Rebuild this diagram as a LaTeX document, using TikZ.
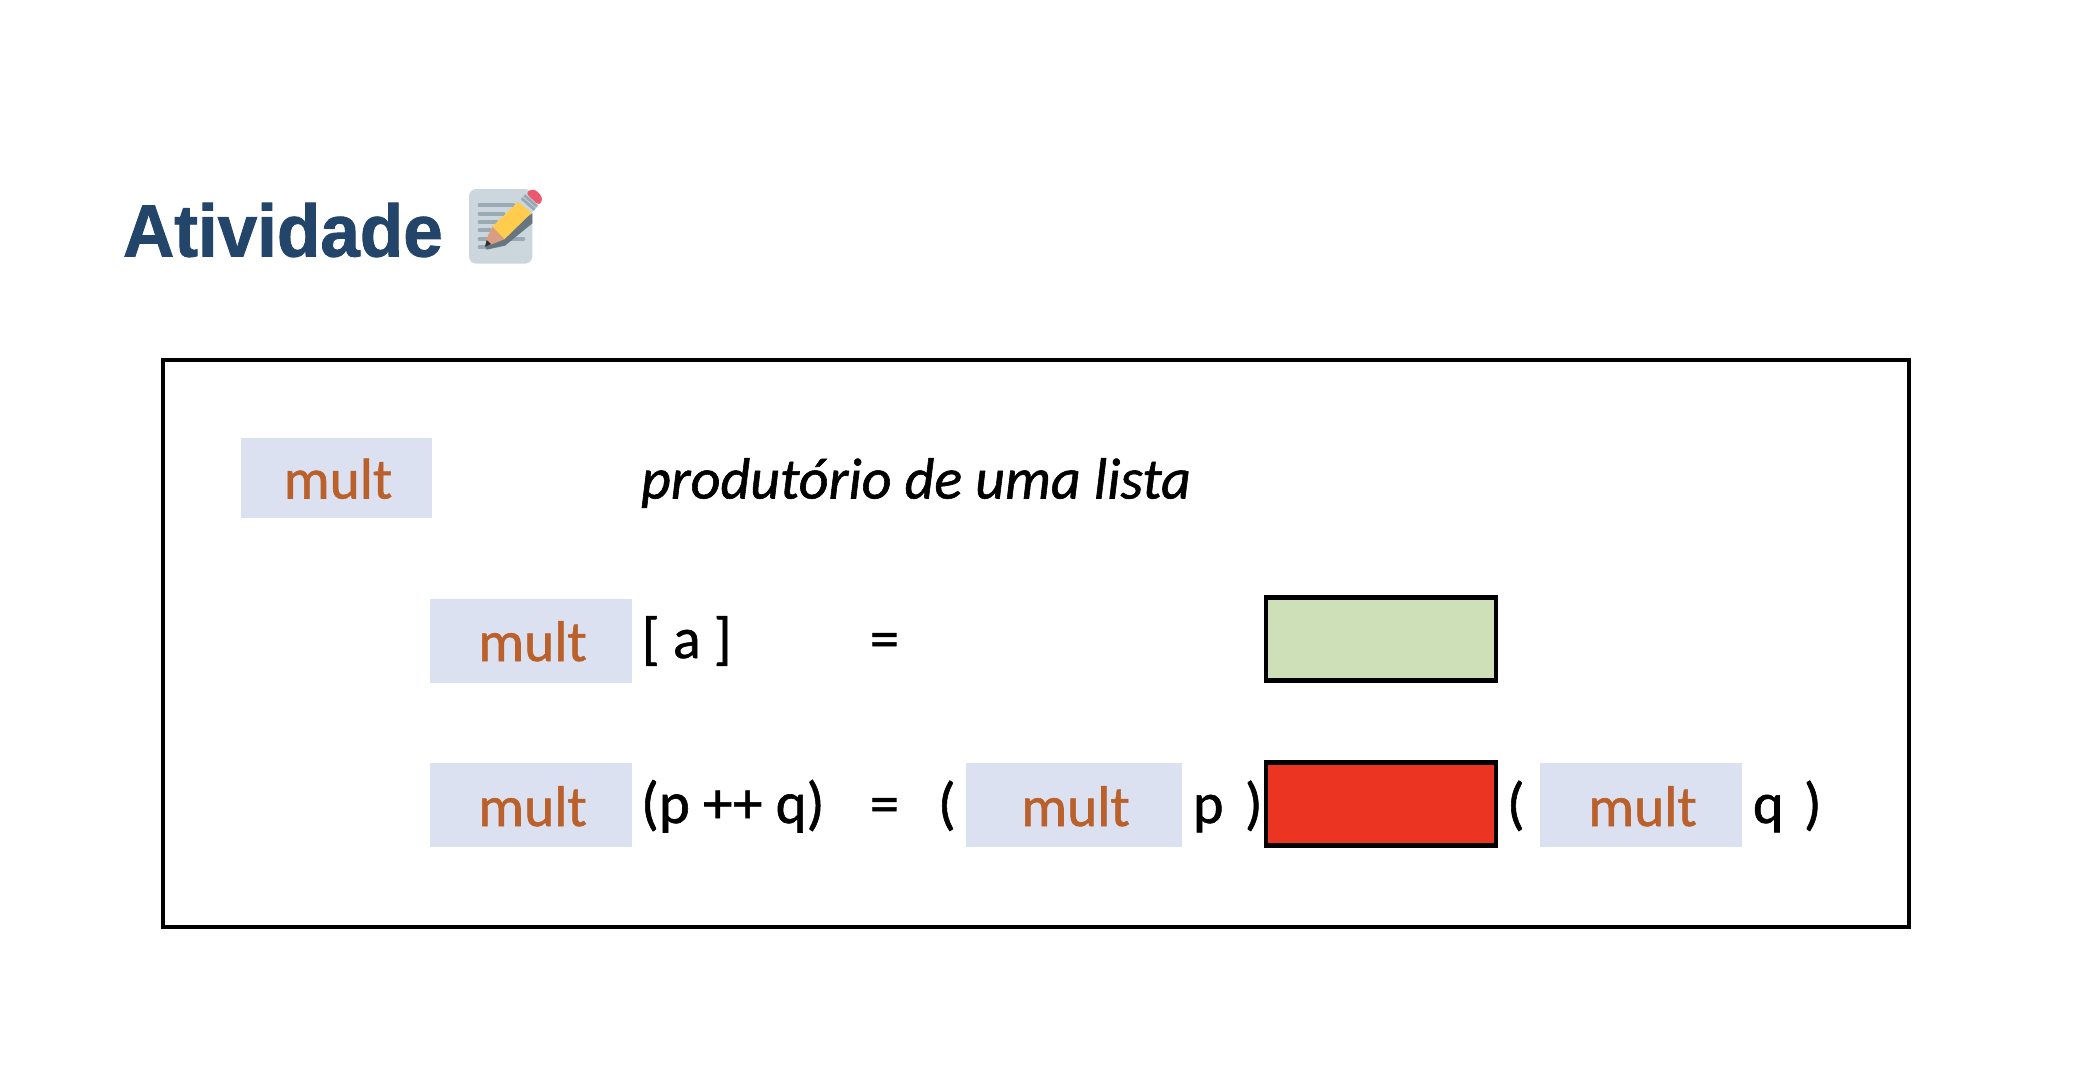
\documentclass[tikz,border=0pt]{standalone}
\usepackage{fontspec}
\setmainfont{Carlito}[FakeBold=1.0,ItalicFeatures={FakeBold=1.0}]
\newfontfamily\titlefont{Liberation Sans Bold}[FakeBold=1.2]
\definecolor{multbg}{HTML}{DCE1F1}
\definecolor{multfg}{HTML}{B9602B}
\definecolor{greenbox}{HTML}{CDE0B8}
\definecolor{redbox}{HTML}{EC3423}
\definecolor{titleblue}{HTML}{23456A}
\definecolor{memopaper}{HTML}{CCD6DD}
\definecolor{memoline}{HTML}{99AAB5}
\definecolor{memoshadow}{HTML}{66757F}
\definecolor{memopencil}{HTML}{FFCC4D}
\definecolor{memotip}{HTML}{D99E82}
\definecolor{memolead}{HTML}{292F33}
\definecolor{memoeraser}{HTML}{EA596E}
\tikzset{
  every node/.style={inner sep=0pt,outer sep=0pt},
  bgbox/.style={fill=multbg,anchor=north west},
  answerbox/.style={draw=black,line width=4.5pt,anchor=center,minimum width=230pt,minimum height=83pt},
  multtext/.style={text=multfg,anchor=base,font=\fontsize{57.5}{60}\selectfont},
  eqtext/.style={text=black,anchor=base west,font=\fontsize{58}{60}\selectfont},
  memotext/.style={line width=4pt,line cap=round,draw=memoline}
}
\newcommand{\bgnode}[5]{\node[bgbox,minimum width=#4pt,minimum height=#5pt] (#1) at (#2,#3) {};}
\begin{document}
\begin{tikzpicture}[x=1pt,y=-1pt]
\useasboundingbox (0,0) rectangle (2076,1084);
% title
\node[anchor=base west,text=titleblue] (title) at (123,256.5) {\scalebox{0.96}[1]{\titlefont\fontsize{74}{80}\selectfont Atividade}};
% memo emoji
\begin{scope}[shift={(100,160)},x=0.33333pt,y=-0.33333pt]
  \fill[memopaper,rounded corners=22*0.33333pt] (1107,87) rectangle (1297,311);
  \foreach \ya/\xb in {136/1240,161/1210,186/1190,211/1170,237/1270,262/1165}
    \draw[memotext] (1139,\ya) -- (\xb,\ya);
  \fill[memoshadow] (1297,160) -- (1297,190) -- (1215,257) -- (1160,269) -- (1155,258) -- cycle;
  \fill[memopencil] (1255,125) -- (1295,158) -- (1213,238) -- (1177,200) -- cycle;
  \fill[memotip] (1177,200) -- (1213,238) -- (1172,254) -- (1157,242) -- cycle;
  \fill[memolead] (1160,240) -- (1173,252) -- (1155,260) -- cycle;
  \fill[memopaper] (1255,125) -- (1278,100) -- (1315,135) -- (1295,158) -- cycle;
  \draw[memoline,line width=3pt] (1265,115) -- (1304,149);
  \draw[memoline,line width=3pt] (1273,106) -- (1311,140);
  \fill[memoeraser,rounded corners=3pt] (1278,100) -- (1292,88) -- (1308,90) -- (1326,110) -- (1326,126) -- (1315,135) -- cycle;
\end{scope}
% frame
\node[draw=black,line width=4.5pt,anchor=north west,minimum width=1746pt,minimum height=567pt] (frame) at (163,360) {};
% mult boxes
\bgnode{b1}{240.5}{438}{191.5}{80}
\bgnode{b2}{430}{598.5}{202}{84}
\bgnode{b3}{430}{763}{202}{84}
\bgnode{b4}{965.5}{763}{216.5}{84}
\bgnode{b5}{1540}{763}{202}{84}
\node[multtext] (m1) at (338,498.5) {mult};
\node[multtext] (m2) at (532.5,661) {mult};
\node[multtext] (m3) at (532.5,826) {mult};
\node[multtext] (m4) at (1075.5,826) {mult};
\node[multtext] (m5) at (1642.5,826) {mult};
% answer boxes
\node[answerbox,fill=greenbox] (green) at (1381,639) {};
\node[answerbox,fill=redbox] (red) at (1381,804) {};
% text
\node[eqtext,font=\fontsize{58}{60}\selectfont\itshape] (desc) at (641,498.5) {produtório de uma lista};
\node[eqtext] (t1) at (642,658) {[ a ]};
\node[eqtext] (eq1) at (870,658) {=};
\node[eqtext,font=\fontsize{59}{60}\selectfont] (t2) at (641,823) {(p ++ q)};
\node[eqtext] (eq2) at (870,823) {=};
\node[eqtext] (lp1) at (938,823) {(};
\node[eqtext] (p) at (1193,823) {p};
\node[eqtext] (rp1) at (1245,823) {)};
\node[eqtext] (lp2) at (1507,823) {(};
\node[eqtext] (q) at (1753,823) {q};
\node[eqtext] (rp2) at (1804,823) {)};
\end{tikzpicture}
\end{document}
